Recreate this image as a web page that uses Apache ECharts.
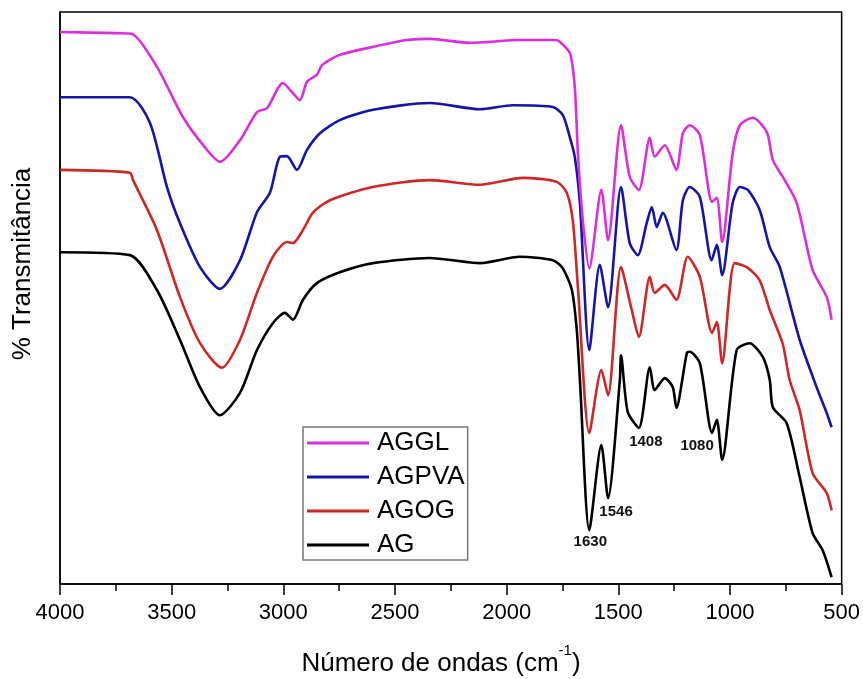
<!DOCTYPE html>
<html>
<head>
<meta charset="utf-8">
<script src="https://cdn.jsdelivr.net/npm/echarts@6/dist/echarts.min.js"></script>
<style>html,body{margin:0;padding:0;background:#fff}#c{width:863px;height:679px}</style>
</head>
<body>
<div id="c"></div>
<script>
// [wavenumber (cm-1), % transmittance (arbitrary, offset spectra)]
const AGGL = [[4000,96.5],[3745,96.3],[3680,96.2],[3566,90.4],[3449,81.6],[3342,75.9],[3284,73.8],[3194,77.6],[3118,82.5],[3073,83.2],[3002,87.6],[2957,85.8],[2926,84.6],[2894,87.8],[2850,89.0],[2827,90.7],[2747,92.5],[2599,93.9],[2447,95.1],[2344,95.3],[2165,94.6],[1941,95.1],[1784,95.1],[1762,94.8],[1717,92.8],[1695,86.9],[1681,75.3],[1659,63.6],[1630,55.2],[1576,68.9],[1546,60.1],[1488,80.2],[1449,71.2],[1408,68.9],[1359,78.0],[1337,74.7],[1292,76.7],[1240,72.4],[1211,78.8],[1180,80.2],[1135,78.5],[1080,66.8],[1059,67.5],[1035,59.8],[988,75.3],[956,80.2],[898,81.5],[835,79.0],[808,74.1],[764,71.2],[701,66.6],[630,54.9],[567,50.2],[545,46.2]];
const AGPVA = [[4000,85.1],[3687,85.1],[3597,80.6],[3521,69.4],[3463,63.1],[3373,55.4],[3284,51.6],[3194,56.6],[3118,65.0],[3060,68.4],[3015,74.7],[2984,74.8],[2939,72.4],[2894,75.9],[2836,78.8],[2747,81.1],[2599,82.9],[2344,84.1],[2120,83.0],[1972,83.7],[1793,83.4],[1749,82.0],[1717,78.1],[1695,74.7],[1672,66.6],[1630,40.9],[1583,55.8],[1546,48.4],[1488,69.4],[1449,59.6],[1413,57.5],[1373,63.1],[1350,65.9],[1328,62.4],[1301,64.9],[1240,58.4],[1211,67.1],[1180,69.4],[1135,67.7],[1082,56.6],[1059,59.3],[1035,54.0],[988,66.6],[956,69.4],[920,68.9],[867,65.4],[822,58.9],[777,55.4],[688,42.7],[612,34.4],[567,29.9],[545,27.4]];
const AGOG = [[4000,72.4],[3687,71.9],[3673,70.6],[3566,61.9],[3463,50.2],[3373,42.1],[3275,37.8],[3194,42.7],[3118,50.9],[3047,57.2],[2984,59.8],[2957,59.6],[2912,61.9],[2868,64.9],[2791,67.1],[2599,69.4],[2344,70.6],[2120,69.8],[1928,71.0],[1775,70.3],[1731,68.4],[1704,63.6],[1681,51.9],[1630,26.4],[1576,37.4],[1546,33.0],[1488,55.4],[1440,47.9],[1408,43.2],[1359,53.7],[1337,50.9],[1292,52.3],[1240,49.7],[1189,57.2],[1135,53.7],[1080,43.9],[1059,45.8],[1035,38.6],[979,56.1],[925,55.4],[867,53.1],[822,47.9],[764,42.0],[733,35.7],[688,30.4],[630,19.4],[567,15.9],[545,12.9]];
const AG = [[4000,58.0],[3687,57.5],[3566,51.4],[3463,42.7],[3373,34.4],[3284,29.5],[3194,33.4],[3118,40.9],[3047,45.6],[2993,47.4],[2957,46.2],[2912,49.7],[2850,52.6],[2747,54.5],[2599,56.1],[2344,57.0],[2120,56.1],[1941,57.2],[1793,56.6],[1749,55.2],[1708,51.4],[1686,44.4],[1672,35.7],[1630,9.4],[1576,24.3],[1546,15.0],[1493,35.7],[1488,40.0],[1458,30.1],[1408,27.3],[1359,37.9],[1337,33.9],[1292,36.0],[1256,34.4],[1240,30.8],[1193,40.4],[1180,40.6],[1135,38.6],[1080,26.4],[1059,28.7],[1035,21.7],[970,40.9],[912,42.1],[853,39.7],[822,35.7],[808,30.9],[746,28.1],[688,18.7],[630,8.9],[585,5.9],[545,1.2]];
const seriesNames = ['AGGL','AGPVA','AGOG','AG'];
const seriesColors = ['#DD2EDD','#1515AA','#D12626','#000000'];
const peakLabels = [[1630,9.4,'1630'],[1546,15.0,'1546'],[1408,27.3,'1408'],[1080,26.4,'1080']];
const peakOffsets = [[1,12],[8,14],[7,14],[-15,13]];
const xTicks = [500,1000,1500,2000,2500,3000,3500,4000];

const chart = echarts.init(document.getElementById('c'), null, {renderer:'canvas'});
const dataMap = {AGGL, AGPVA, AGOG, AG};
const FONT = 'Liberation Sans, Arial, sans-serif';

const series = seriesNames.map((n,i)=>({
  name:n, type:'line', data:dataMap[n], showSymbol:false, symbol:'none',
  smooth:0.25, lineStyle:{color:seriesColors[i], width:2.6}, itemStyle:{color:seriesColors[i]},
  z: 10 - i, animation:false
}));
series[3].markPoint = {
  symbol:'circle', symbolSize:1, itemStyle:{color:'rgba(0,0,0,0)'},
  label:{show:true, position:'inside', color:'#111', fontFamily:FONT, fontWeight:'bold', fontSize:15},
  data: peakLabels.map((p,i)=>({coord:[p[0],p[1]], value:p[2], label:{offset:peakOffsets[i], formatter:p[2]}}))
};

chart.setOption({
  animation:false,
  backgroundColor:'#fff',
  grid:{left:60, right:21, top:12, bottom:95, show:true, borderColor:'#000', borderWidth:1.5, containLabel:false},
  xAxis:{
    type:'value', inverse:true, min:500, max:4000, interval:500,
    axisLine:{show:true, onZero:false, lineStyle:{color:'#000', width:1.5}},
    axisTick:{show:true, inside:false, length:11, lineStyle:{color:'#000', width:1.5}},
    minorTick:{show:true, splitNumber:2, length:7, lineStyle:{color:'#000', width:1.5}},
    splitLine:{show:false},
    axisLabel:{color:'#000', fontSize:22, fontFamily:FONT, margin:18,
      formatter:v=> xTicks.includes(v) ? String(v) : ''}
  },
  yAxis:{
    type:'value', min:0, max:100, axisLine:{show:true, lineStyle:{color:'#000', width:1.5}},
    axisTick:{show:false}, axisLabel:{show:false}, splitLine:{show:false}
  },
  legend:{
    orient:'vertical', left:303, top:427, data:seriesNames,
    icon:'rect', itemWidth:62, itemHeight:3, itemGap:8,
    padding:[3,3,2,4], borderColor:'#777', borderWidth:1.5, backgroundColor:'#fff',
    textStyle:{fontSize:26, lineHeight:26, fontFamily:FONT, color:'#000', padding:[0,0,0,3]},
    selectedMode:false
  },
  graphic:[
    {type:'text', x:23, y:264, rotation:Math.PI/2,
      style:{text:'% Transmitância', font:'26px '+FONT, fill:'#000', textAlign:'center', textVerticalAlign:'middle'}},
    {type:'text', x:441, y:660,
      style:{text:'{a|Número de ondas (cm}{s|-1}{a|)}', fill:'#000', textAlign:'center', textVerticalAlign:'middle',
        rich:{a:{fontSize:26, lineHeight:34, fontFamily:FONT, fill:'#000', verticalAlign:'bottom'},
              s:{fontSize:15, lineHeight:15, fontFamily:FONT, fill:'#000', verticalAlign:'top'}}}}
  ],
  series: series
});
</script>
</body>
</html>
